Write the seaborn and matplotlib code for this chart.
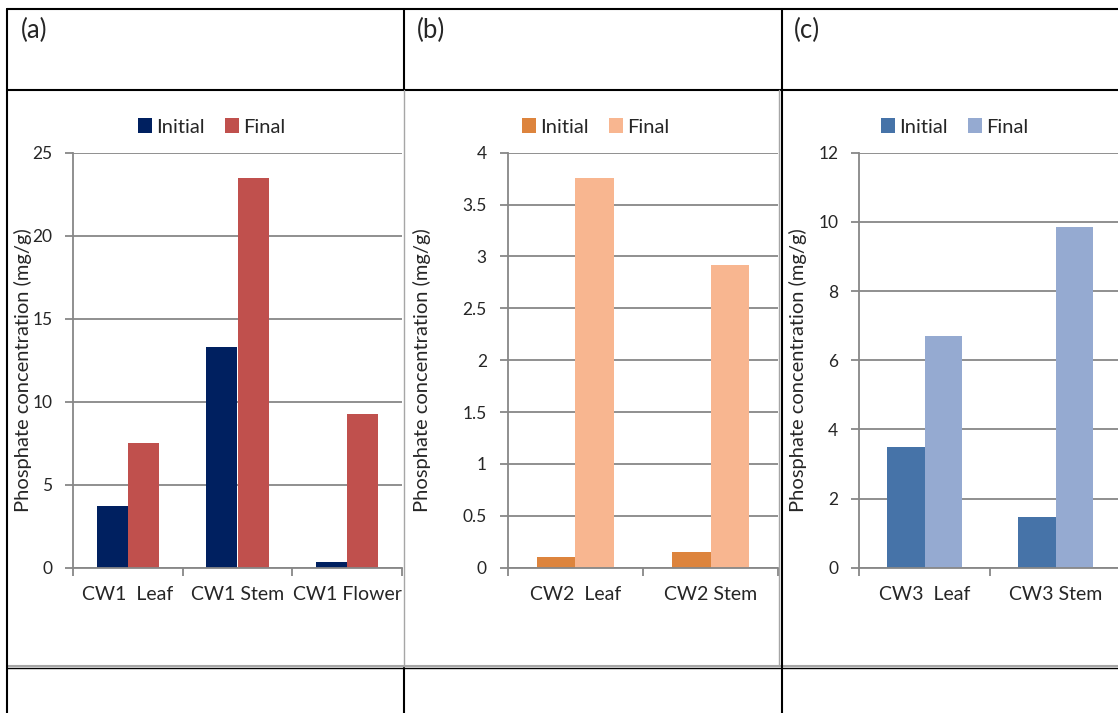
import numpy as np
import pandas as pd
import matplotlib
matplotlib.use("Agg")
import matplotlib.pyplot as plt
import seaborn as sns
from matplotlib.lines import Line2D

# ---------------- DATA ----------------
stages = ["Initial", "Final"]

cw1_parts = ["CW1  Leaf", "CW1 Stem", "CW1 Flower"]
cw1_initial = [3.73, 13.3, 0.33]
cw1_final = [7.49, 23.47, 9.24]
cw1_ticks = [0, 5, 10, 15, 20, 25]

cw2_parts = ["CW2  Leaf", "CW2 Stem"]
cw2_initial = [0.103, 0.154]
cw2_final = [3.76, 2.92]
cw2_ticks = [0, 0.5, 1, 1.5, 2, 2.5, 3, 3.5, 4]

cw3_parts = ["CW3  Leaf", "CW3 Stem"]
cw3_initial = [3.48, 1.47]
cw3_final = [6.70, 9.85]
cw3_ticks = [0, 2, 4, 6, 8, 10, 12]

ylabel = "Phosphate concentration (mg/g)"

# ---------------- LAYOUT (pixels) ----------------
W, H = 1118, 713
GRID = "#878787"
FRAME = "#a6a6a6"

sns.set_theme(style="white")
plt.rcParams["font.family"] = ["Lato", "DejaVu Sans"]

fig = plt.figure(figsize=(W / 100, H / 100), dpi=100)
fig.patch.set_facecolor("white")


def fx(px):
    return px / W


def fy(py):
    return 1 - py / H


def make_df(parts, initial, final):
    rows = []
    for p, v in zip(parts, initial):
        rows.append({"part": p, "stage": "Initial", "value": v})
    for p, v in zip(parts, final):
        rows.append({"part": p, "stage": "Final", "value": v})
    return pd.DataFrame(rows)


panels = [
    # label, parts, initial, final, ticks, colors, left, right, legend x, ylabel x, label x
    ("(a)", cw1_parts, cw1_initial, cw1_final, cw1_ticks,
     ["#002060", "#C0504D"], 73.3, 401.7, 212, 32, 21),
    ("(b)", cw2_parts, cw2_initial, cw2_final, cw2_ticks,
     ["#DD843D", "#F8B690"], 507.7, 778.3, 596, 431, 417),
    ("(c)", cw3_parts, cw3_initial, cw3_final, cw3_ticks,
     ["#4673A8", "#95AAD1"], 859.0, 1121.0, 955, 807, 794),
]

TOP, BOTTOM = 152.7, 567.7

for label, parts, initial, final, ticks, colors, left, right, leg_x, yl_x, lab_x in panels:

    ax = fig.add_axes([fx(left), fy(BOTTOM), (right - left) / W, (BOTTOM - TOP) / H])

    df = make_df(parts, initial, final)

    sns.barplot(data=df, x="part", y="value", hue="stage", hue_order=stages,
                palette=colors, width=0.57, linewidth=0, saturation=1,
                ax=ax)

    n = len(parts)
    ax.set_xlim(-0.5, n - 0.5)
    ax.set_ylim(0, ticks[-1])
    ax.set_yticks(ticks)
    ax.set_yticklabels([f"{t:g}" for t in ticks])

    ax.yaxis.grid(True, color=GRID, lw=1.3)
    ax.set_axisbelow(True)

    for side in ["top", "right"]:
        ax.spines[side].set_visible(False)
    for side in ["left", "bottom"]:
        ax.spines[side].set_color(GRID)
        ax.spines[side].set_linewidth(1.3)

    ax.set_xticks(np.arange(-0.5, n, 1.0), minor=True)
    ax.tick_params(axis="x", which="major", length=0, pad=13, labelsize=14)
    ax.tick_params(axis="x", which="minor", length=6, width=1.3, color=GRID,
                   direction="out", bottom=True)
    ax.tick_params(axis="y", length=6, width=1.3, color=GRID, direction="out",
                   left=True, pad=9, labelsize=12.5)

    ax.set_xlabel("")
    ax.set_ylabel(ylabel, fontsize=14.5)
    ax.yaxis.set_label_coords((yl_x - left) / (right - left),
                              (BOTTOM - 370) / (BOTTOM - TOP))

    handles, labels = ax.get_legend_handles_labels()
    ax.legend(handles, labels, ncol=2, frameon=False, loc="center",
              bbox_to_anchor=((leg_x - left) / (right - left),
                              (BOTTOM - 127) / (BOTTOM - TOP)),
              handlelength=0.7, handleheight=0.7, handletextpad=0.2,
              columnspacing=1.0, fontsize=14.5)

    fig.text(fx(lab_x), fy(30), label, fontsize=18.5, va="center", ha="left")


# ---------------- TABLE LINES ----------------
def hline(y, x0, x1, color="black", lw=1.5):
    fig.add_artist(Line2D([fx(x0), fx(x1)], [fy(y), fy(y)], color=color, lw=lw,
                          transform=fig.transFigure))


def vline(x, y0, y1, color="black", lw=1.5):
    fig.add_artist(Line2D([fx(x), fx(x)], [fy(y0), fy(y1)], color=color, lw=lw,
                          transform=fig.transFigure))


hline(9, 7, W)
hline(90, 7, W)
hline(666, 7, W, color=FRAME, lw=1.5)
hline(668, 7, W, color="black", lw=1.0)

vline(7, 9, H)
vline(404, 9, 90)
vline(404, 90, 666, color=FRAME, lw=1.0)
vline(404, 668, H)
vline(779, 90, 666, color=FRAME, lw=1.0)
vline(782, 9, H)

plt.savefig("out.png", dpi=100)
plt.close()
